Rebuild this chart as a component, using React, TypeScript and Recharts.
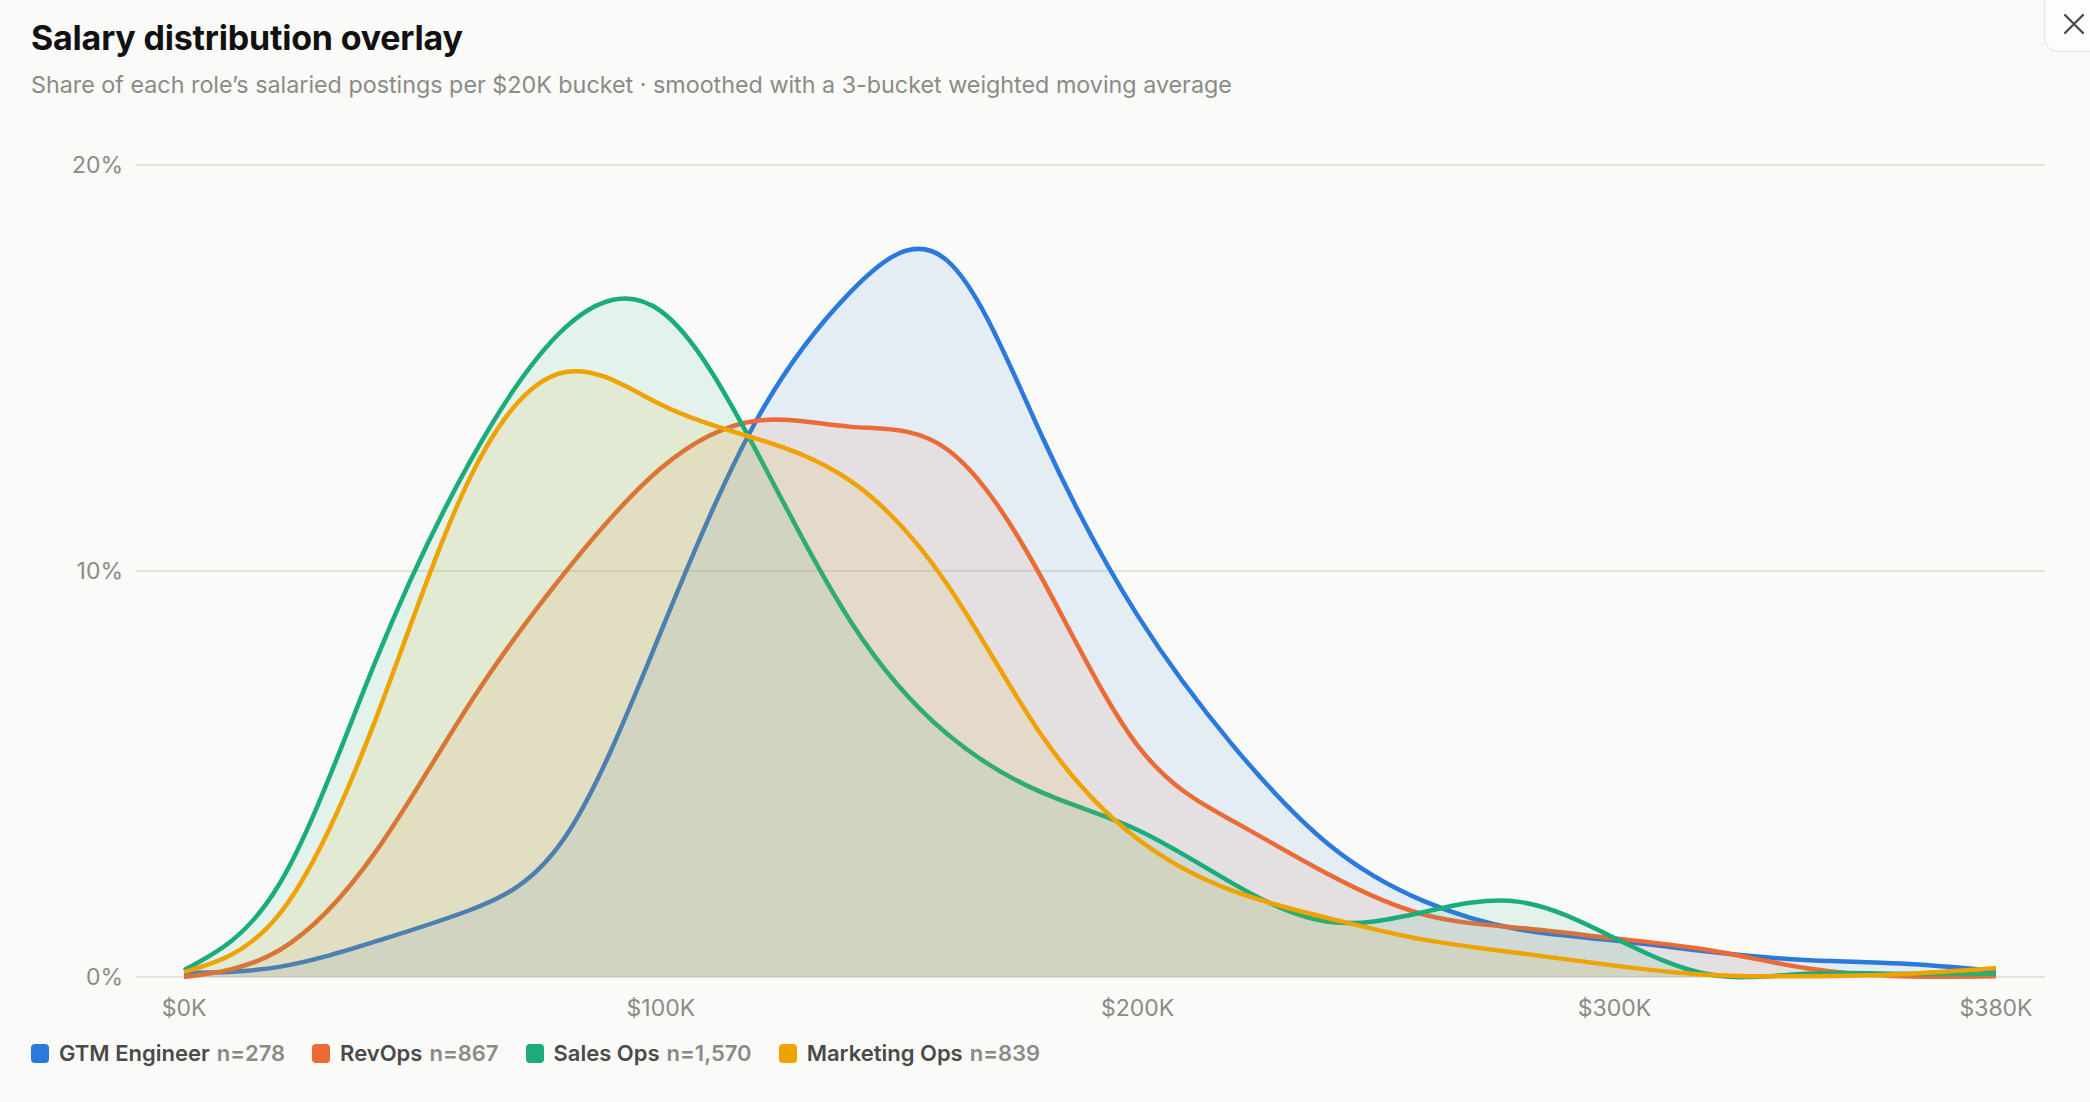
import { AreaChart, Area, XAxis, YAxis, CartesianGrid } from "recharts";

// salary buckets, in $K
const buckets = [0, 20, 40, 60, 80, 100, 120, 140, 160, 180, 200, 220, 240, 260, 280, 300, 320, 340, 360, 380];

// share of postings per bucket (%)
const gtmEngineer = [0.1, 0.25, 0.87, 1.65, 3.46, 8.5, 13.7, 16.9, 17.65, 13.3, 8.9, 5.7, 3.27, 1.87, 1.17, 0.9, 0.62, 0.42, 0.33, 0.15];
const revOps = [0.0, 0.66, 3.05, 6.75, 9.98, 12.53, 13.7, 13.55, 13.0, 9.8, 5.7, 3.84, 2.53, 1.54, 1.21, 0.95, 0.66, 0.22, 0.02, 0.02];
const salesOps = [0.17, 2.29, 7.73, 12.7, 16.0, 16.4, 12.96, 8.72, 5.99, 4.54, 3.62, 2.3, 1.36, 1.6, 1.85, 0.96, 0.06, 0.08, 0.08, 0.08];
const marketingOps = [0.12, 1.55, 6.29, 12.3, 14.9, 14.1, 13.26, 12.2, 9.68, 5.93, 3.4, 2.12, 1.45, 0.92, 0.59, 0.28, 0.05, 0.02, 0.07, 0.22];

const xTicks = [0, 100, 200, 300, 380];
const yTicks = [0, 10, 20];

const roles = [
  { key: "gtm", name: "GTM Engineer", count: "n=278", color: "#2a79dc", values: gtmEngineer },
  { key: "revops", name: "RevOps", count: "n=867", color: "#ec6a36", values: revOps },
  { key: "salesops", name: "Sales Ops", count: "n=1,570", color: "#1aad7b", values: salesOps },
  { key: "mktops", name: "Marketing Ops", count: "n=839", color: "#efa302", values: marketingOps },
];

const data = buckets.map((b, i) => {
  const row: { [key: string]: number } = { bucket: b };
  roles.forEach((r) => {
    row[r.key] = r.values[i];
  });
  return row;
});

const font = "Inter, 'Noto Sans', sans-serif";
const muted = "#8b8b86";

export default function App() {
  return (
    <div
      style={{
        position: "absolute",
        left: 0,
        top: 0,
        width: 2090,
        height: 1102,
        background: "#fafaf8",
        fontFamily: font,
        overflow: "hidden",
      }}
    >
      <div style={{ position: "absolute", left: 0, top: 0 }}>
        <AreaChart
          width={2090}
          height={1040}
          data={data}
          margin={{ top: 165, right: 45, left: 0, bottom: 0 }}
        >
          <CartesianGrid vertical={false} stroke="#e3e3dd" strokeWidth={2} />
          <XAxis
            dataKey="bucket"
            type="number"
            domain={[0, 380]}
            ticks={xTicks}
            padding={{ left: 48, right: 49 }}
            tickFormatter={(v) => `$${v}K`}
            tick={{ fontSize: 23, fill: muted, fontFamily: font }}
            axisLine={false}
            tickLine={false}
            tickSize={0}
            tickMargin={23}
            height={63}
          />
          <YAxis
            domain={[0, 20]}
            ticks={yTicks}
            tickFormatter={(v) => `${v}%`}
            tick={{ fontSize: 23, fill: muted, fontFamily: font }}
            axisLine={false}
            tickLine={false}
            tickSize={0}
            tickMargin={13}
            width={136}
          />
          {roles.map((r) => (
            <Area
              key={r.key}
              type="natural"
              dataKey={r.key}
              name={r.name}
              stroke={r.color}
              strokeWidth={4.5}
              fill={r.color}
              fillOpacity={0.1}
              dot={false}
              activeDot={false}
              isAnimationActive={false}
            />
          ))}
        </AreaChart>
      </div>

      <div
        style={{
          position: "absolute",
          left: 31,
          top: 21,
          fontSize: 34,
          lineHeight: 1,
          fontWeight: 700,
          letterSpacing: -0.2,
          color: "#111",
        }}
      >
        Salary distribution overlay
      </div>
      <div
        style={{
          position: "absolute",
          left: 31,
          top: 73,
          fontSize: 23.3,
          lineHeight: 1,
          color: muted,
        }}
      >
        Share of each role’s salaried postings per $20K bucket · smoothed with a 3-bucket weighted moving average
      </div>

      <div
        style={{
          position: "absolute",
          left: 31,
          top: 1042,
          display: "flex",
          alignItems: "center",
          gap: 27,
          fontSize: 22,
          fontWeight: 600,
          lineHeight: 1,
        }}
      >
        {roles.map((r) => (
          <div key={r.key} style={{ display: "flex", alignItems: "center" }}>
            <span
              style={{
                width: 18,
                height: 19,
                borderRadius: 4,
                background: r.color,
                marginRight: 10,
                display: "inline-block",
              }}
            />
            <span style={{ color: "#4a4a48" }}>{r.name}</span>
            <span style={{ color: muted, marginLeft: 7 }}>{r.count}</span>
          </div>
        ))}
      </div>

      <div
        style={{
          position: "absolute",
          left: 2044,
          top: -20,
          width: 80,
          height: 72,
          border: "1.5px solid #e4e4df",
          borderRadius: 14,
          background: "#fdfdfc",
          boxSizing: "border-box",
        }}
      >
        <svg width={24} height={24} style={{ position: "absolute", left: 17, top: 31 }}>
          <path d="M3 3 L21 21 M21 3 L3 21" stroke="#4d4d4d" strokeWidth={2.4} strokeLinecap="round" />
        </svg>
      </div>
    </div>
  );
}
